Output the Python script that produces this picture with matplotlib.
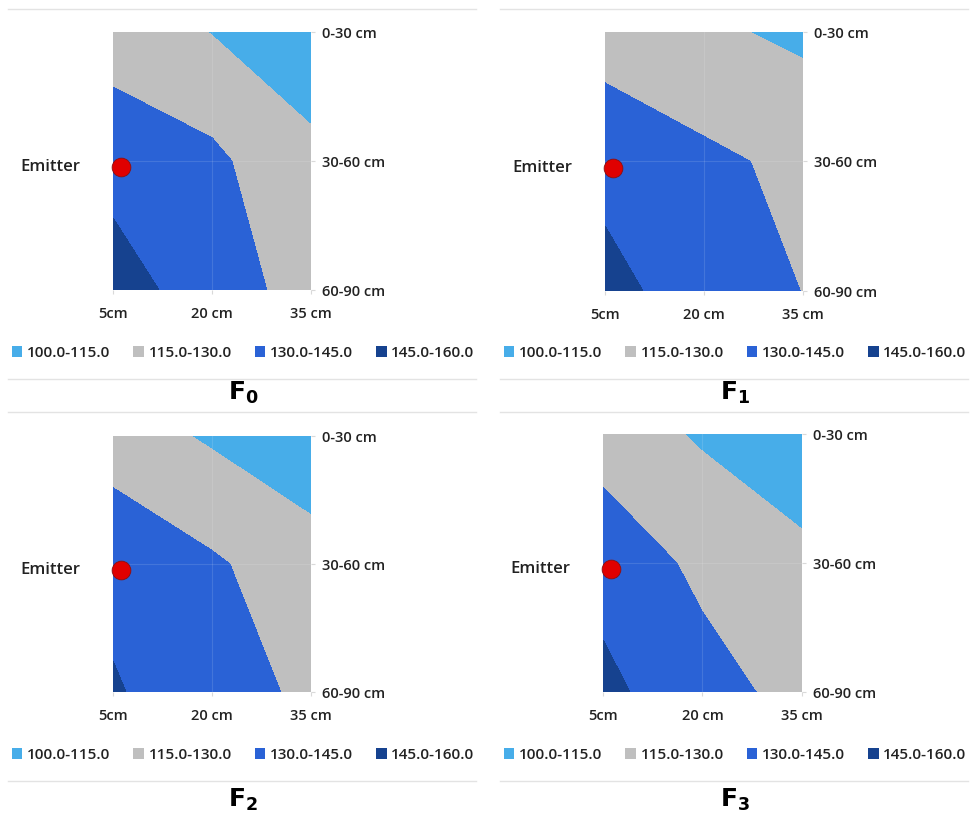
import matplotlib.pyplot as plt
import numpy as np
from matplotlib.lines import Line2D
from matplotlib.patches import Patch

plt.rcParams.update({
    "font.family": ["Open Sans", "DejaVu Sans"],
    "font.size": 10.5,
})

# ── Data ─────────────────────────────────────────────────────────────────────
x_pos = [5, 20, 35]                      # distance from emitter (cm)
x_labels = ["5cm", "20 cm", "35 cm"]
depth_pos = [0, 1, 2]                    # soil layer index
depth_labels = ["0-30 cm", "30-60 cm", "60-90 cm"]

levels = [100, 115, 130, 145, 160]
band_labels = ["100.0-115.0", "115.0-130.0", "130.0-145.0", "145.0-160.0"]
band_colors = ["#47ADE9", "#BFBFBF", "#2A62D6", "#16428F"]

# rows = depth (top -> bottom), cols = distance (5, 20, 35 cm)
F0 = [[125.0, 114.5, 111.4],
      [136.7, 133.4, 116.4],
      [155.6, 132.6, 127.9]]
F1 = [[125.0, 117.5, 112.0],
      [137.7, 133.0, 126.6],
      [152.3, 133.4, 129.9]]
F2 = [[122.4, 113.0, 105.5],
      [141.2, 132.0, 120.9],
      [146.2, 137.0, 126.9]]
F3 = [[123.0, 113.2, 106.5],
      [140.0, 126.5, 118.0],
      [148.4, 135.7, 125.1]]

treatments = ["0", "1", "2", "3"]
emitter_x, emitter_y = 6.2, 1.05

# ── Layout (pixels of a 978x813 canvas) ──────────────────────────────────────
W, H = 978, 813
panels = [
    # data, axes box (left, top, right, bottom), centre x, line ys, legend y, title y
    (F0, (113, 32, 311, 290), 243, (9, 379), 353, 393),
    (F1, (605, 32, 803, 291), 735, (9, 379), 353, 393),
    (F2, (113, 436, 311, 692), 243, (412, 781), 755, 800),
    (F3, (603, 434, 802, 692), 735, (412, 781), 755, 800),
]

fig = plt.figure(figsize=(W / 100, H / 100), dpi=100)

for (z, (l, t, r, b), cx, line_ys, leg_y, ty), name in zip(panels, treatments):
    ax = fig.add_axes([l / W, 1 - b / H, (r - l) / W, (b - t) / H])
    X, Y = np.meshgrid(x_pos, depth_pos)
    ax.contourf(X, Y, np.array(z), levels=levels, colors=band_colors)
    # faint Excel-style gridlines
    ax.axvline(x_pos[1], color="white", lw=0.8, alpha=0.12)
    ax.axhline(depth_pos[1], color="white", lw=0.8, alpha=0.12)

    ax.plot(emitter_x, emitter_y, "o", ms=13.5, color="#E00000",
            mec="#8A1010", mew=0.6, clip_on=False, zorder=5)
    ax.text(-0.165, 1 - emitter_y / 2, "Emitter", transform=ax.transAxes,
            ha="right", va="center", fontsize=12, fontweight="semibold",
            color="#222222")

    ax.set_xlim(x_pos[0], x_pos[-1])
    ax.set_ylim(depth_pos[-1], depth_pos[0])
    ax.set_xticks(x_pos)
    ax.set_xticklabels(x_labels)
    ax.set_yticks(depth_pos)
    ax.set_yticklabels(depth_labels)
    ax.yaxis.tick_right()
    ax.tick_params(axis="x", length=3, color="#D9D9D9", pad=9,
                   labelcolor="#222222")
    ax.tick_params(axis="y", length=3, color="#D9D9D9", pad=5,
                   labelcolor="#222222")
    for lab in ax.get_xticklabels() + ax.get_yticklabels():
        lab.set_fontweight("semibold")
    for s in ax.spines.values():
        s.set_visible(False)

    handles = [Patch(facecolor=c, edgecolor="none") for c in band_colors]
    leg = fig.legend(handles, band_labels, loc="center", ncol=4, frameon=False,
                     bbox_to_anchor=(cx / W, 1 - leg_y / H), fontsize=11,
                     handlelength=0.7, handleheight=0.7, handletextpad=0.3,
                     columnspacing=1.5, labelcolor="#222222")
    for txt in leg.get_texts():
        txt.set_fontweight("semibold")

    x0, x1 = (cx - 235) / W, (cx + 233) / W
    for ly in line_ys:
        fig.add_artist(Line2D([x0, x1], [1 - ly / H] * 2, color="#E3E3E3",
                              lw=1.0))
    fig.text(cx / W, 1 - ty / H, r"$\mathbf{F_{%s}}$" % name, ha="center",
             va="center", fontsize=18)

fig.savefig("out.png", dpi=100)
